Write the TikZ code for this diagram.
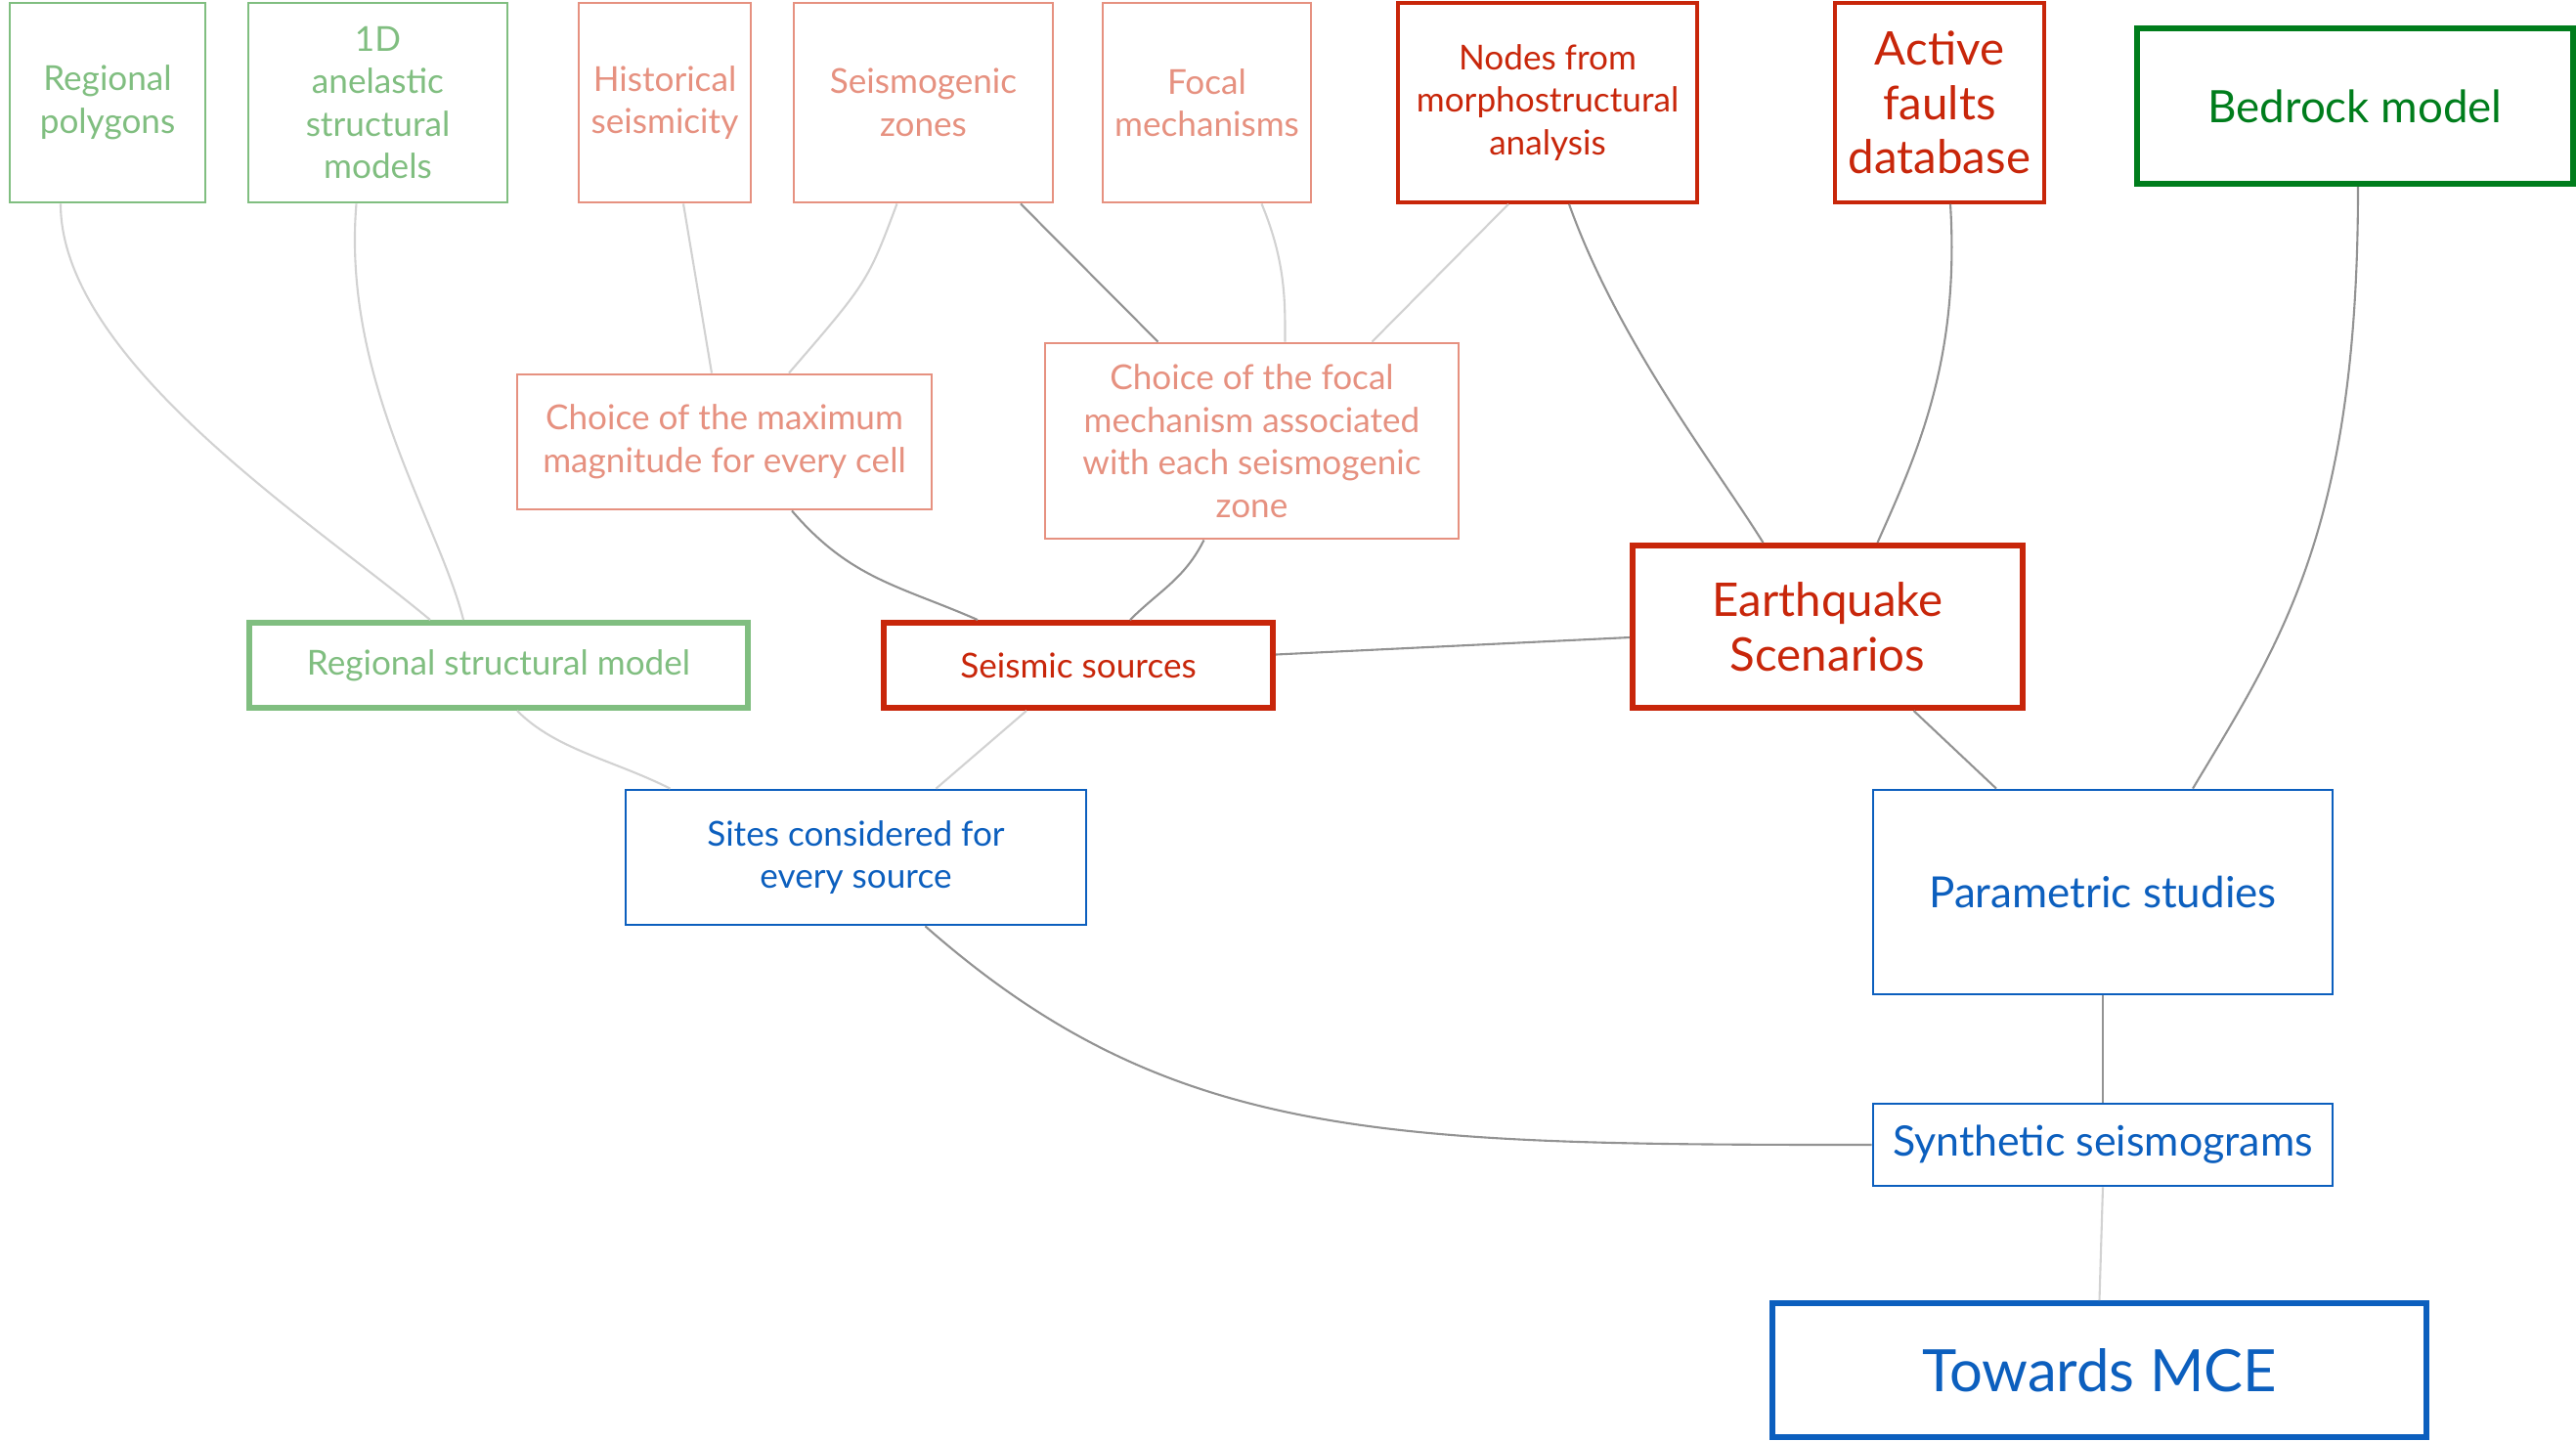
\documentclass[tikz,border=0pt]{standalone}
\usepackage{fontspec}
\setmainfont{Lato}
\usetikzlibrary{positioning}
\definecolor{seis-lgreen}{RGB}{128,190,128}
\definecolor{seis-salmon}{RGB}{230,145,128}
\definecolor{seis-red}{RGB}{200,38,10}
\definecolor{seis-dgreen}{RGB}{0,125,28}
\definecolor{seis-blue}{RGB}{12,95,190}

\tikzset{
  box/.style={draw, rectangle, align=center, inner sep=2pt, font=\fontsize{10}{12.4}\selectfont},
  greenbox/.style={box, draw=seis-lgreen, text=seis-lgreen, line width=0.8pt},
  salmonbox/.style={box, draw=seis-salmon, text=seis-salmon, line width=0.8pt},
  redbox/.style={box, draw=seis-red, text=seis-red, line width=1pt},
  bluebox/.style={box, draw=seis-blue, text=seis-blue, line width=0.8pt},
  thickbox/.style={line width=1.7pt},
  faint/.style={draw=gray!35, line width=0.6pt},
  dark/.style={draw=gray!85, line width=0.6pt}
}

\begin{document}
\begin{tikzpicture}
  \useasboundingbox (0,0) rectangle (26.35,-14.74);

  % Top row - data
  \node[greenbox, minimum width=2.00cm, minimum height=2.04cm] (poly) at (1.10,-1.05) {Regional\\polygons};
  \node[greenbox, minimum width=2.65cm, minimum height=2.04cm] (aniso) at (3.865,-1.05) {1D\\anelastic\\structural\\models};
  \node[salmonbox, minimum width=1.76cm, minimum height=2.04cm] (hist) at (6.80,-1.05) {Historical\\seismicity};
  \node[salmonbox, minimum width=2.65cm, minimum height=2.04cm] (zones) at (9.445,-1.05) {Seismogenic\\zones};
  \node[salmonbox, minimum width=2.13cm, minimum height=2.04cm] (focal) at (12.345,-1.05) {Focal\\mechanisms};
  \node[redbox, minimum width=3.06cm, minimum height=2.04cm] (morpho) at (15.83,-1.05) {Nodes from\\morphostructural\\analysis};
  \node[redbox, minimum width=2.14cm, minimum height=2.04cm, font=\fontsize{13.5}{15.8}\selectfont] (faults) at (19.84,-1.05) {Active\\faults\\database};
  \node[box, thickbox, draw=seis-dgreen, text=seis-dgreen, minimum width=4.46cm, minimum height=1.59cm, font=\fontsize{13}{15.6}\selectfont] (bedrock) at (24.09,-1.085) {Bedrock model};

  % Middle - choices
  \node[salmonbox, minimum width=4.24cm, minimum height=1.38cm] (maxmag) at (7.41,-4.52) {Choice of the maximum\\magnitude for every cell};
  \node[salmonbox, minimum width=4.23cm, minimum height=2.00cm] (focalch) at (12.805,-4.51) {Choice of the focal\\mechanism associated\\with each seismogenic\\zone};

  % Models and sources
  \node[greenbox, thickbox, minimum width=5.10cm, minimum height=0.87cm] (rsm) at (5.10,-6.805) {Regional structural model};
  \node[redbox, thickbox, minimum width=3.98cm, minimum height=0.87cm] (sources) at (11.03,-6.805) {Seismic sources};
  \node[redbox, thickbox, minimum width=3.99cm, minimum height=1.66cm, font=\fontsize{13.5}{15.8}\selectfont] (scen) at (18.695,-6.41) {Earthquake\\Scenarios};

  % Computation
  \node[bluebox, minimum width=4.71cm, minimum height=1.38cm] (sites) at (8.755,-8.77) {Sites considered for\\every source};
  \node[bluebox, minimum width=4.70cm, minimum height=2.09cm, font=\fontsize{12.5}{15}\selectfont] (param) at (21.51,-9.125) {Parametric studies};
  \node[bluebox, minimum width=4.70cm, minimum height=0.84cm, font=\fontsize{12.2}{14.6}\selectfont] (synth) at (21.51,-11.71) {Synthetic seismograms};
  \node[bluebox, thickbox, minimum width=6.69cm, minimum height=1.37cm, font=\fontsize{17}{20}\selectfont] (mce) at (21.475,-14.015) {Towards MCE};

  % Links
  \draw[faint] ([xshift=-0.48cm]poly.south) .. controls +(0,-1.6) and +(-1.2,1.0) .. ([xshift=-0.70cm]rsm.north);
  \draw[faint] ([xshift=-0.22cm]aniso.south) .. controls +(-0.15,-1.8) and +(-0.25,1.0) .. ([xshift=-0.36cm]rsm.north);
  \draw[faint] ([xshift=0.19cm]hist.south) -- ([xshift=-0.13cm]maxmag.north);
  \draw[faint] ([xshift=-0.27cm]zones.south) .. controls +(-0.3,-0.8) .. ([xshift=0.66cm]maxmag.north);
  \draw[dark] ([xshift=0.995cm]zones.south) -- ([xshift=-0.96cm]focalch.north);
  \draw[faint] ([xshift=0.56cm]focal.south) .. controls +(0.25,-0.6) and +(0,0.4) .. ([xshift=0.34cm]focalch.north);
  \draw[faint] ([xshift=-0.40cm]morpho.south) -- ([xshift=1.23cm]focalch.north);
  \draw[dark] ([xshift=0.22cm]morpho.south) .. controls +(0.5,-1.4) and +(-0.5,0.8) .. ([xshift=-0.66cm]scen.north);
  \draw[dark] ([xshift=0.11cm]faults.south) .. controls +(0.1,-1.6) and +(0.4,0.9) .. ([xshift=0.51cm]scen.north);
  \draw[dark] ([xshift=0.03cm]bedrock.south) .. controls +(0,-3.5) and +(0.9,1.5) .. ([xshift=0.92cm]param.north);
  \draw[dark] ([xshift=0.69cm]maxmag.south) .. controls +(0.6,-0.7) and +(-0.8,0.35) .. ([xshift=-1.03cm]sources.north);
  \draw[dark] ([xshift=-0.49cm]focalch.south) .. controls +(-0.2,-0.4) and +(0.3,0.3) .. ([xshift=0.53cm]sources.north);
  \draw[dark] ([yshift=0.11cm]sources.east) -- ([yshift=-0.11cm]scen.west);
  \draw[faint] ([xshift=0.19cm]rsm.south) .. controls +(0.4,-0.4) and +(-0.6,0.3) .. ([xshift=-1.90cm]sites.north);
  \draw[faint] ([xshift=-0.53cm]sources.south) -- ([xshift=0.82cm]sites.north);
  \draw[dark] ([xshift=0.88cm]scen.south) -- ([xshift=-1.09cm]param.north);
  \draw[dark] ([xshift=0.71cm]sites.south) .. controls +(2.5,-2.2) and +(-5,0) .. (synth.west);
  \draw[dark] (param.south) -- (synth.north);
  \draw[faint] (synth.south) -- (mce.north);
\end{tikzpicture}
\end{document}
